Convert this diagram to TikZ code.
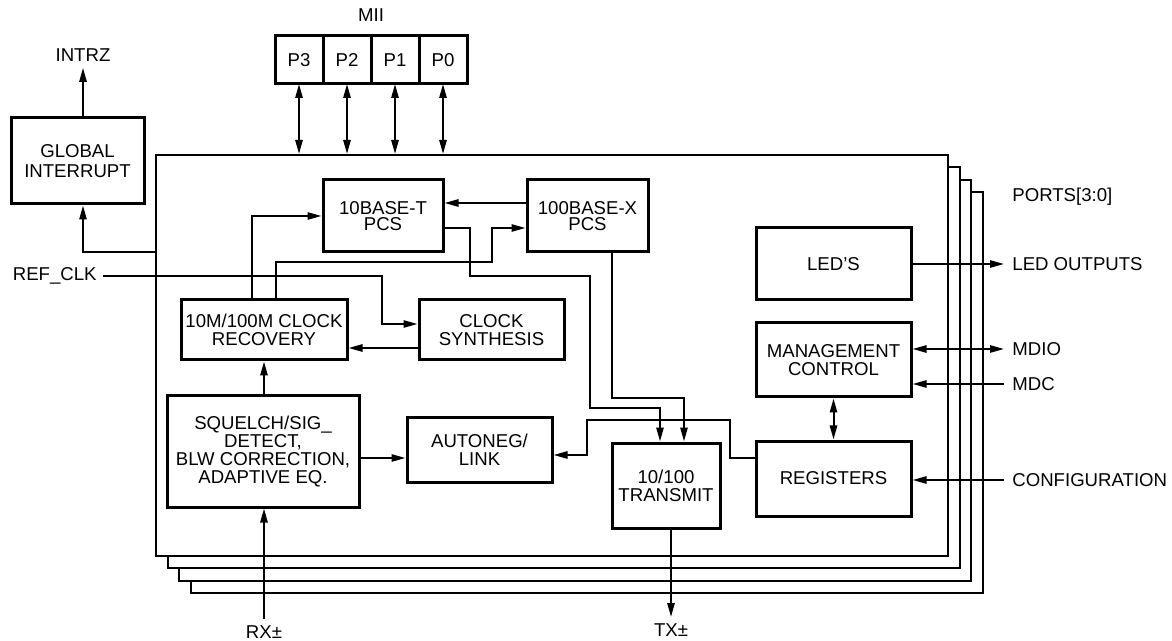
\documentclass[tikz,border=0pt]{standalone}
\usepackage{fontspec}
\setmainfont{Liberation Sans}
\usetikzlibrary{arrows.meta,positioning}

\begin{document}
\begin{tikzpicture}[
  x=0.5pt,y=-0.5pt,
  >={Triangle[length=7pt,width=3.6pt]},
  every node/.style={font=\fontsize{9.3pt}{9pt}\selectfont},
  blk/.style={draw,line width=1.5pt,fill=white,align=center,inner sep=0pt},
  frm/.style={draw,line width=1pt,fill=white,inner sep=0pt,
              minimum width=396pt,minimum height=200.5pt},
  pin/.style={draw,line width=1.5pt,minimum size=24pt,inner sep=0pt,outer sep=0pt},
  lbl/.style={inner sep=3pt},
  rlbl/.style={anchor=west,inner sep=4pt},
  wire/.style={line width=1pt}
]
\useasboundingbox (0,0) rectangle (1172,641);

%% stacked port frames, back to front
\foreach \i in {3,2,1}
  \node[frm] (frame\i) at ({552+11.7*\i},{355.5+12.3*\i}) {};
\node[frm] (frame0) at (552,355.5) {};

%% MII port boxes
\node[pin] (p3) at (299,60) {P3};
\node[pin,right=0pt of p3] (p2) {P2};
\node[pin,right=0pt of p2] (p1) {P1};
\node[pin,right=0pt of p1] (p0) {P0};
\node (mii) at (371,15) {MII};

%% global interrupt
\node[blk,minimum width=66.5pt,minimum height=43pt] (gint) at (77.5,161) {GLOBAL\\[1pt]INTERRUPT};
\node[lbl] (intrz) at (83,55) {INTRZ};

%% blocks inside a port
\node[blk,minimum width=60pt,minimum height=36pt] (tbase) at (383,216) {10BASE-T\\[-1pt]PCS};
\node[blk,minimum width=60.5pt,minimum height=36pt] (xbase) at (587.5,216) {100BASE-X\\[-1pt]PCS};
\node[blk,minimum width=83pt,minimum height=30pt] (rec) at (264,330) {10M/100M CLOCK\\RECOVERY};
\node[blk,minimum width=72.5pt,minimum height=30pt] (syn) at (491.5,330) {CLOCK\\SYNTHESIS};
\node[blk,minimum width=96pt,minimum height=55.5pt] (sq) at (263,451.5) {SQUELCH/SIG\_\\DETECT,\\BLW CORRECTION,\\ADAPTIVE EQ.};
\node[blk,minimum width=72.5pt,minimum height=32pt] (aneg) at (479.5,450) {AUTONEG/\\LINK};
\node[blk,minimum width=54pt,minimum height=42.5pt] (tx) at (666,485.5) {10/100\\TRANSMIT};
\node[blk,minimum width=77.5pt,minimum height=36pt] (led) at (833.5,264) {LED'S};
\node[blk,minimum width=77.5pt,minimum height=37pt] (mgmt) at (833.5,360) {MANAGEMENT\\CONTROL};
\node[blk,minimum width=77.5pt,minimum height=37.5pt] (reg) at (833.5,478.5) {REGISTERS};

%% outside labels
\node[lbl,anchor=east] (refclk) at (103,276) {REF\_CLK};
\node[rlbl] (ports) at (1004,197) {PORTS[3:0]};
\node[rlbl] (ledout) at (1004,264) {LED OUTPUTS};
\node[rlbl] (mdio) at (1004,349) {MDIO};
\node[rlbl] (mdc) at (1004,384) {MDC};
\node[rlbl] (config) at (1004,480) {CONFIGURATION};
\node[lbl,anchor=north] (rxpm) at (264,619) {RX±};
\node[lbl,anchor=north] (txpm) at (671,617) {TX±};
\coordinate (irq) at (156,252);

%% Arrows
\foreach \p in {p3,p2,p1,p0}
  \draw[wire,<->] (\p.south) -- (\p.south |- frame0.north);
\draw[wire,->] (intrz.south |- gint.north) -- (intrz.south);
\draw[wire,->] (irq) -| (intrz.south |- gint.south);
\draw[wire,->] (refclk.east) -| ([xshift=-18pt,yshift=3pt]syn.west) -- ([yshift=3pt]syn.west);
\draw[wire,->] ([yshift=-9pt]syn.west) -- ([yshift=-9pt]syn.west -| rec.east);
\draw[wire,->] ([xshift=-6pt]rec.north) |- (tbase.west);
\draw[wire,->] ([xshift=6pt]rec.north) -- ++(0,-36) -- ++(216,0) |- ([yshift=-6pt]xbase.west);
\draw[wire,->] ([yshift=6.5pt]xbase.west) -- ([yshift=6.5pt]tbase.east);
\draw[wire,->] ([yshift=-6pt]tbase.east) -- ++(25,0) -- ++(0,48) -- ++(120,0) -- ++(0,132) -| ([xshift=-3pt]tx.north);
\draw[wire,->] ([xshift=12.25pt]xbase.south) -- ++(0,145) -| ([xshift=9pt]tx.north);
\draw[wire,->] (sq.north -| rec.south) -- (rec.south);
\draw[wire,->] ([yshift=-3.25pt]sq.east) -- ([yshift=-3.25pt]sq.east -| aneg.west);
\draw[wire,->] ([yshift=10.25pt]reg.west) -- ++(-25,0) -- ++(0,-38) -- ++(-143,0) |- ([yshift=-2.5pt]aneg.east);
\draw[wire,<->] (mgmt.south) -- (reg.north);
\draw[wire,->] (led.east) -- (ledout.west);
\draw[wire,<->] (mgmt.east |- mdio.west) -- (mdio.west);
\draw[wire,->] (mdc.west) -- (mdc.west -| mgmt.east);
\draw[wire,->] (config.west) -- (config.west -| reg.east);
\draw[wire,->] (rxpm.north) -- (rxpm.north |- sq.south);
\draw[wire,->] (txpm.north |- tx.south) -- (txpm.north);

\end{tikzpicture}
\end{document}
